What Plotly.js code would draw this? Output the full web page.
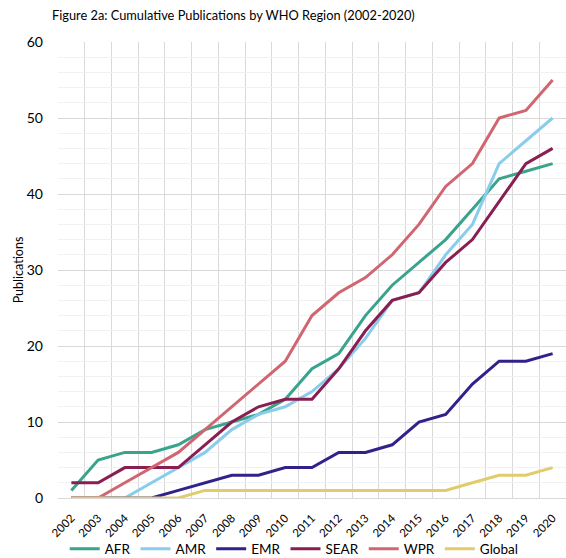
<!DOCTYPE html>
<html>
<head>
<meta charset="utf-8">
<script src="https://cdn.plot.ly/plotly-3.0.1.min.js"></script>
<style>html,body{margin:0;padding:0;background:#fff;}#chart{width:566px;height:558px;}</style>
</head>
<body>
<div id="chart"></div>
<script>
var years = [2002,2003,2004,2005,2006,2007,2008,2009,2010,2011,2012,2013,2014,2015,2016,2017,2018,2019,2020];
var AFR    = [1,5,6,6,7,9,10,11,13,17,19,24,28,31,34,38,42,43,44];
var AMR    = [0,0,0,2,4,6,9,11,12,14,17,21,26,27,32,36,44,47,50];
var EMR    = [0,0,0,0,1,2,3,3,4,4,6,6,7,10,11,15,18,18,19];
var SEAR   = [2,2,4,4,4,7,10,12,13,13,17,22,26,27,31,34,39,44,46];
var WPR    = [0,0,2,4,6,9,12,15,18,24,27,29,32,36,41,44,50,51,55];
var Global = [0,0,0,0,0,1,1,1,1,1,1,1,1,1,1,2,3,3,4];

var seriesNames = ["AFR","AMR","EMR","SEAR","WPR","Global"];
var seriesData = [AFR, AMR, EMR, SEAR, WPR, Global];
var colors = ["#3aa38c","#88cdec","#30228a","#8a1e52","#d0666f","#e1cc6c"];

var traces = seriesNames.map(function(n, i){
  return {
    x: years, y: seriesData[i], name: n, type: "scatter", mode: "lines",
    line: {color: colors[i], width: 3}
  };
});

var FONT = "Lato, 'Open Sans', sans-serif";
var first = years[0], last = years[years.length - 1];
var layout = {
  width: 566, height: 558,
  margin: {l: 58, r: 0, t: 42, b: 60},
  paper_bgcolor: "#fff", plot_bgcolor: "#fff",
  font: {family: FONT, color: "#000", size: 13},
  title: {text: "Figure 2a: Cumulative Publications by WHO Region (2002-2020)",
          xref: "container", x: 52/566, xanchor: "left",
          yref: "container", y: 1 - 16/558, yanchor: "middle",
          font: {family: FONT, size: 12.8, color: "#000"}},
  xaxis: {type: "linear", range: [first - 0.5, last + 0.5], tickmode: "array", tickvals: years,
          ticktext: years.map(String), showgrid: false,
          ticks: "outside", ticklen: 8, tickcolor: "rgba(0,0,0,0)", tickangle: -45, tickfont: {size: 11.5},
          minor: {tickmode: "linear", tick0: first - 0.5, dtick: 1, showgrid: true, gridcolor: "#d9d9d9", gridwidth: 1, ticks: ""},
          showline: false, zeroline: false, automargin: false, fixedrange: true},
  yaxis: {range: [0, 60], dtick: 10, showgrid: true, gridcolor: "#d9d9d9", gridwidth: 1,
          minor: {dtick: 2, showgrid: true, gridcolor: "#f1f1f1", gridwidth: 1},
          zeroline: true, zerolinecolor: "#d9d9d9", zerolinewidth: 1,
          ticks: "", ticklabelstandoff: 14, tickfont: {size: 14}, automargin: false,
          title: {text: "Publications", font: {size: 12.5}, standoff: 0}, fixedrange: true},
  showlegend: true,
  legend: {orientation: "h", xref: "paper", x: 0.465, xanchor: "center",
           yref: "container", y: 1 - 549/558, yanchor: "middle", bgcolor: "rgba(0,0,0,0)",
           font: {size: 13.5}, itemwidth: 30, tracegroupgap: 0},
};

Plotly.newPlot("chart", traces, layout, {displayModeBar: false, staticPlot: true});
</script>
</body>
</html>
